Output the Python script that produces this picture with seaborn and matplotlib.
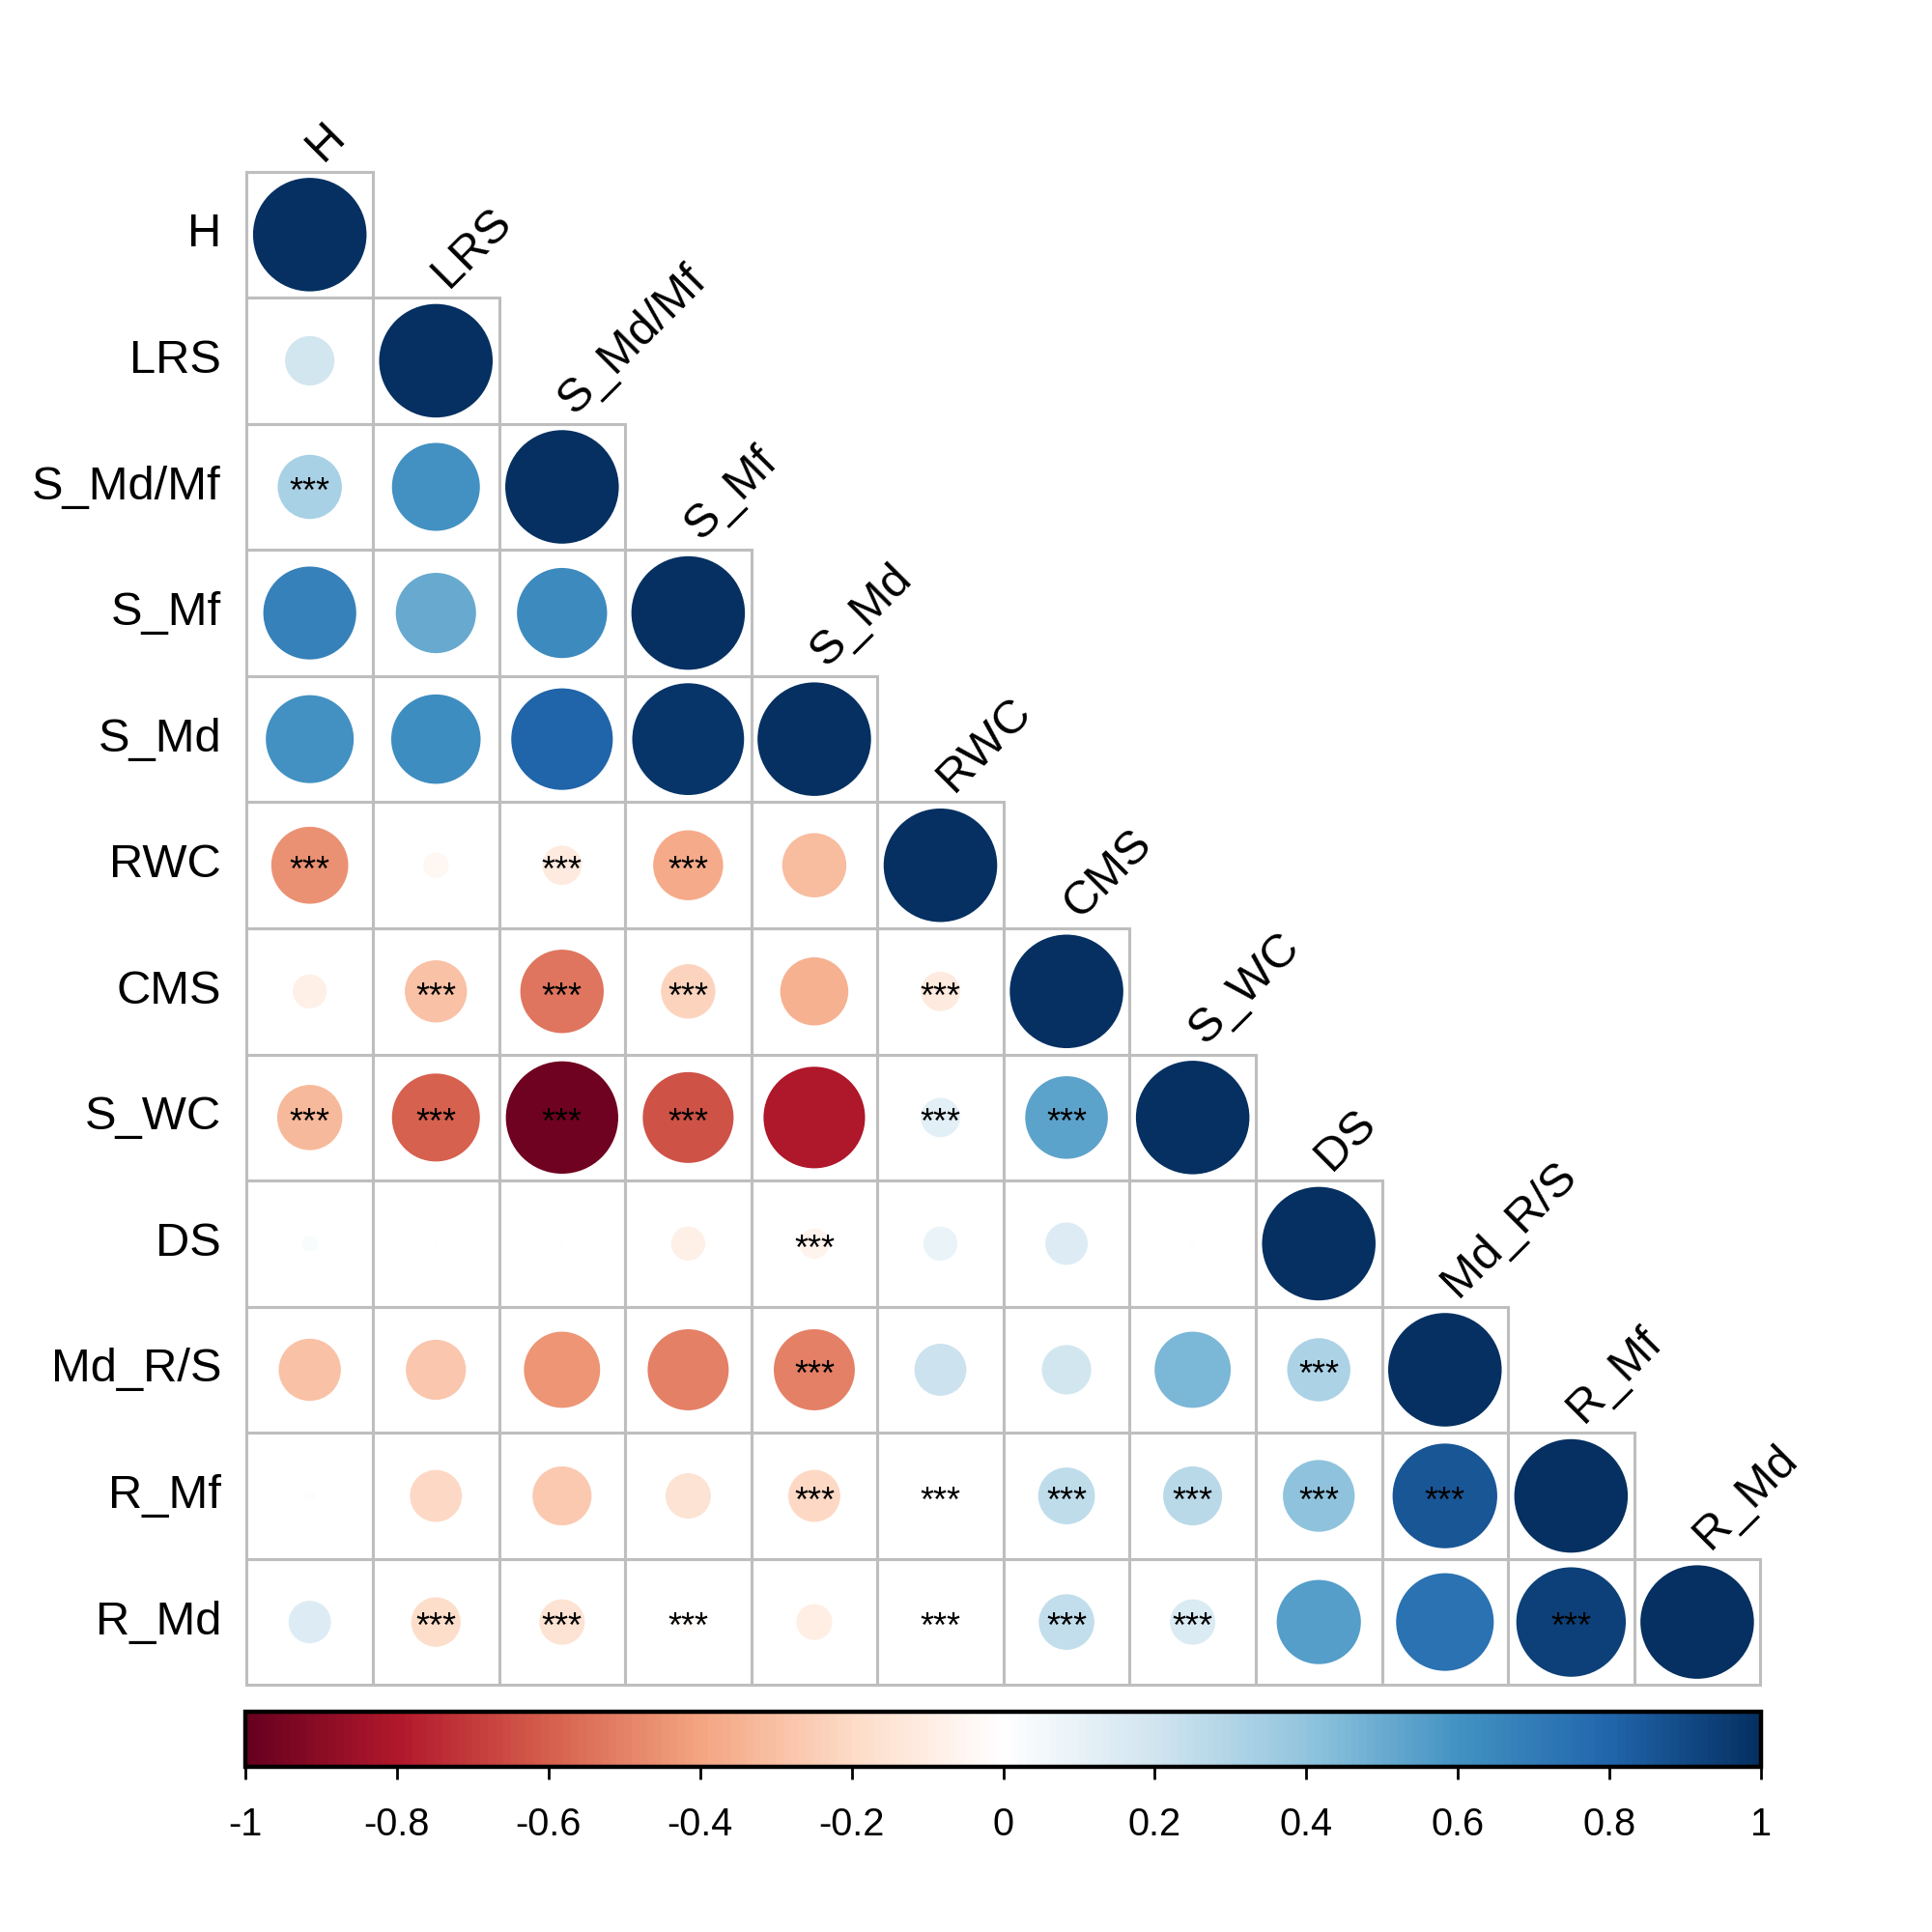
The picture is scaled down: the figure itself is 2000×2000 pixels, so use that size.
import numpy as np
import pandas as pd
import matplotlib
matplotlib.use('Agg')
import matplotlib.pyplot as plt
import seaborn as sns
from matplotlib.colors import LinearSegmentedColormap, Normalize
from matplotlib.patches import Circle, Rectangle
from matplotlib.cm import ScalarMappable

# variables
labels = ['H', 'LRS', 'S_Md/Mf', 'S_Mf', 'S_Md', 'RWC', 'CMS', 'S_WC',
          'DS', 'Md_R/S', 'R_Mf', 'R_Md']

# lower triangle correlations (row by row, without the diagonal)
r_LRS = [0.19]
r_SMdMf = [0.32, 0.60]
r_SMf = [0.67, 0.50, 0.63]
r_SMd = [0.60, 0.62, 0.80, 0.97]
r_RWC = [-0.46, -0.05, -0.12, -0.38, -0.32]
r_CMS = [-0.09, -0.30, -0.54, -0.23, -0.36, -0.12]
r_SWC = [-0.33, -0.60, -0.98, -0.64, -0.80, 0.12, 0.53]
r_DS = [0.02, 0.001, -0.003, -0.09, -0.07, 0.09, 0.14, 0.004]
r_MdRS = [-0.30, -0.28, -0.45, -0.51, -0.51, 0.21, 0.19, 0.45, 0.31]
r_RMf = [0.01, -0.21, -0.27, -0.16, -0.21, 0.0, 0.25, 0.27, 0.40, 0.85]
r_RMd = [0.14, -0.19, -0.16, -0.03, -0.10, 0.0, 0.24, 0.16, 0.55, 0.74, 0.93]

# cells flagged *** (row, col)
stars = [('S_Md/Mf', 'H'),
         ('RWC', 'H'), ('RWC', 'S_Md/Mf'), ('RWC', 'S_Mf'),
         ('CMS', 'LRS'), ('CMS', 'S_Md/Mf'), ('CMS', 'S_Mf'), ('CMS', 'RWC'),
         ('S_WC', 'H'), ('S_WC', 'LRS'), ('S_WC', 'S_Md/Mf'), ('S_WC', 'S_Mf'),
         ('S_WC', 'RWC'), ('S_WC', 'CMS'),
         ('DS', 'S_Md'),
         ('Md_R/S', 'S_Md'), ('Md_R/S', 'DS'),
         ('R_Mf', 'S_Md'), ('R_Mf', 'RWC'), ('R_Mf', 'CMS'), ('R_Mf', 'S_WC'),
         ('R_Mf', 'DS'), ('R_Mf', 'Md_R/S'),
         ('R_Md', 'LRS'), ('R_Md', 'S_Md/Mf'), ('R_Md', 'S_Mf'), ('R_Md', 'RWC'),
         ('R_Md', 'CMS'), ('R_Md', 'S_WC'), ('R_Md', 'R_Mf')]

cbar_ticks = [-1, -0.8, -0.6, -0.4, -0.2, 0, 0.2, 0.4, 0.6, 0.8, 1]
cbar_ticklabels = ['-1', '-0.8', '-0.6', '-0.4', '-0.2', '0', '0.2', '0.4',
                   '0.6', '0.8', '1']

n = len(labels)
rows = [[], r_LRS, r_SMdMf, r_SMf, r_SMd, r_RWC, r_CMS, r_SWC, r_DS, r_MdRS,
        r_RMf, r_RMd]
corr = np.eye(n)
for i, vals in enumerate(rows):
    for j, v in enumerate(vals):
        corr[i, j] = v
        corr[j, i] = v
corr = pd.DataFrame(corr, index=labels, columns=labels)

sns.set_theme(style='white')
plt.rcParams['font.family'] = ['Liberation Sans', 'DejaVu Sans']

# corrplot RdBu palette (white centre)
col2 = ['#67001F', '#B2182B', '#D6604D', '#F4A582', '#FDDBC7', '#FFFFFF',
        '#D1E5F0', '#92C5DE', '#4393C3', '#2166AC', '#053061']
cmap = LinearSegmentedColormap.from_list('col2', col2, N=200)
norm = Normalize(-1, 1)

fig = plt.figure(figsize=(10, 10), dpi=200)
ax = fig.add_axes([0.1273, 0.1278, 0.7842, 0.7834])

# blank lower-triangle canvas
mask = np.triu(np.ones((n, n), dtype=bool), k=1)
sns.heatmap(np.zeros((n, n)), mask=mask, cmap=['white'], cbar=False,
            linewidths=0, square=True, ax=ax,
            xticklabels=False, yticklabels=labels)
ax.set_xlim(0, n)
ax.set_ylim(n, 0)

# grey cell borders
for i in range(n):
    for j in range(i + 1):
        ax.add_patch(Rectangle((j, i), 1, 1, fill=False, edgecolor='#BEBEBE',
                               linewidth=1.1, zorder=2, clip_on=False))

# circles
for i in range(n):
    for j in range(i + 1):
        v = corr.iloc[i, j]
        rad = 0.45 * np.sqrt(abs(v))
        if rad <= 0:
            continue
        ax.add_patch(Circle((j + 0.5, i + 0.5), rad, facecolor=cmap(norm(v)),
                            edgecolor='none', zorder=3))

# significance labels
for rname, cname in stars:
    i, j = labels.index(rname), labels.index(cname)
    ax.text(j + 0.5, i + 0.5 + 0.125, '***', ha='center', va='baseline',
            fontsize=13, color='black', zorder=4)

# row labels
ax.tick_params(axis='y', left=False, length=0, pad=9.5, labelsize=17.6,
               rotation=0)
for t in ax.get_yticklabels():
    t.set_color('black')
ax.tick_params(axis='x', bottom=False, top=False, length=0)

# column labels on the diagonal
for j, lab in enumerate(labels):
    ax.text(j + 0.6, j - 0.07, lab, rotation=45, rotation_mode='anchor',
            ha='left', va='baseline', fontsize=17.6, color='black', zorder=5)

for s in ax.spines.values():
    s.set_visible(False)

# colour legend
cax = fig.add_axes([0.127, 0.0855, 0.7845, 0.0285])
sm = ScalarMappable(norm=norm, cmap=cmap)
cb = fig.colorbar(sm, cax=cax, orientation='horizontal', ticks=cbar_ticks)
cb.ax.set_xticklabels(cbar_ticklabels)
cb.outline.set_linewidth(1.6)
cb.outline.set_edgecolor('black')
cb.ax.tick_params(axis='x', direction='out', length=4.8, width=1.0,
                  color='black', labelsize=14.3, pad=10, labelcolor='black')

fig.savefig('out.png', dpi=200, facecolor='white')
